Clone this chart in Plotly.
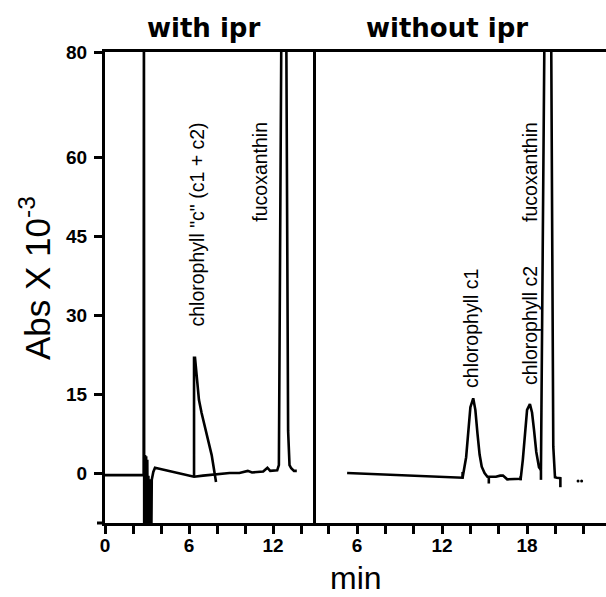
import plotly.graph_objects as go

# ---------------- data ----------------
# Left panel: "with ipr" chromatogram (time in min, Abs x 10^-3)
left_time = [0.0, 2.76, 2.78, 2.80, 2.86, 2.90, 2.94, 2.98, 3.02, 3.06, 3.10, 3.14, 3.18,
             3.22, 3.26, 3.30, 3.34, 3.45, 3.57, 4.5, 5.5, 6.07, 6.36, 7.0, 8.0, 8.9,
             9.6, 10.0, 10.2, 10.5, 11.0, 11.3, 11.6, 11.8, 12.3, 12.42, 12.62, 12.93,
             13.08, 13.18, 13.3, 13.5, 13.7]
left_abs = [-0.4, -0.4, 95, -15, 3.4, -15, 3.2, -15, 2.5, -15, -0.5, -15, -1.2,
            -15, -1.4, -15, -1.3, 0.2, 1.0, 0.4, -0.2, -0.6, -0.7, -0.5, -0.2, 0.0,
            0.0, 0.2, 0.4, 0.1, 0.2, 0.3, 1.0, 0.4, 0.5, 1.5, 95, 95,
            8, 1.5, 0.9, 0.4, 0.4]

# Left panel chlorophyll "c" peak outline
chlc_time = [6.36, 6.36, 6.43, 6.71, 6.90, 7.62, 7.93]
chlc_abs = [-0.7, 21.9, 21.9, 13.9, 11.4, 3.4, -1.7]

# Right panel: "without ipr" chromatogram
right_time = [5.3, 8.0, 11.0, 13.45, 13.7, 13.85, 14.0, 14.2, 14.35, 14.5, 14.65, 14.8,
              15.0, 15.2, 15.8, 16.1, 16.3, 16.6, 17.55, 17.7, 17.85, 18.0, 18.2,
              18.35, 18.49, 18.65, 18.84, 18.98, 19.26, 19.68, 19.85, 19.97, 20.1, 20.4]
right_abs = [0.0, -0.3, -0.6, -0.9, 3.0, 8.5, 12.5, 14.2, 12.0, 7.5, 3.5, 1.2,
             0.0, -0.7, -0.7, -0.5, -0.5, -1.2, -1.1, 2.5, 8.2, 12.0, 13.1,
             11.5, 8.2, 4.0, 1.1, 0.6, 95, 95, 5, -0.8, -0.9, -1.0]

# Integration markers (small vertical ticks) in the right panel
mark_time = [13.45, 15.3, 17.55, 18.98, 20.35]
mark_lo = [-1.0, -2.0, -1.4, -1.3, -2.7]
mark_hi = [0.2, -0.7, -0.6, 0.6, -0.8]

# Dots at the end of the right trace
dot_time = [21.6, 21.85]
dot_abs = [-1.5, -1.5]

# Axis ticks
y_ticks = [0, 15, 30, 45, 60, 80]
left_xticks = [0, 6, 12]
right_xticks = [6, 12, 18]
minor_step = 2

# Peak labels: (text, axis, time, abs)
peak_labels = [
    ('chlorophyll "c" (c1 + c2)', "x", 6.6, 47.3),
    ("fucoxanthin", "x", 11.05, 57.2),
    ("chlorophyll c1", "x2", 14.05, 27.4),
    ("chlorophyll c2", "x2", 18.2, 28.1),
    ("fucoxanthin", "x2", 18.2, 57.2),
]

# ---------------- figure ----------------
LW = 2.6
fig = go.Figure()
fig.add_trace(go.Scatter(x=left_time, y=left_abs, mode="lines", xaxis="x", yaxis="y",
                         line=dict(color="black", width=LW), showlegend=False))
fig.add_trace(go.Scatter(x=chlc_time, y=chlc_abs, mode="lines", xaxis="x", yaxis="y",
                         line=dict(color="black", width=LW), showlegend=False))
fig.add_trace(go.Scatter(x=right_time, y=right_abs, mode="lines", xaxis="x2", yaxis="y",
                         line=dict(color="black", width=LW), showlegend=False))
mx, my = [], []
for t, lo, hi in zip(mark_time, mark_lo, mark_hi):
    mx += [t, t, None]
    my += [lo, hi, None]
fig.add_trace(go.Scatter(x=mx, y=my, mode="lines", xaxis="x2", yaxis="y",
                         line=dict(color="black", width=LW), showlegend=False))
fig.add_trace(go.Scatter(x=dot_time, y=dot_abs, mode="markers", xaxis="x2", yaxis="y",
                         marker=dict(color="black", size=3), showlegend=False))

tickfont = dict(family="Liberation Sans, Arial", size=19, color="black", weight="bold")
split = 208 / 501

common_x = dict(showgrid=False, zeroline=False, showline=True, linewidth=3, linecolor="black",
                mirror=True, ticks="outside", ticklen=8, tickwidth=2.5, tickcolor="black",
                tickfont=tickfont, anchor="y", ticklabelstandoff=-5,
                minor=dict(ticks="outside", ticklen=8, tickwidth=2.5, tickcolor="black",
                           dtick=minor_step, tick0=0, showgrid=False))

fig.update_layout(
    width=606, height=597,
    margin=dict(l=105, r=0, t=52, b=74, pad=0),
    paper_bgcolor="white", plot_bgcolor="white",
    xaxis=dict(domain=[0, split], range=[0, 14.857], tickvals=left_xticks,
               ticktext=[str(v) for v in left_xticks], **common_x),
    xaxis2=dict(domain=[split, 1], range=[2.893, 23.57], tickvals=right_xticks,
                ticktext=[str(v) for v in right_xticks], **common_x),
    yaxis=dict(range=[-9.5, 80], tickvals=y_ticks, ticktext=[str(v) for v in y_ticks],
               showgrid=False, zeroline=False, showline=True, linewidth=3, linecolor="black",
               mirror=True, ticks="outside", ticklen=8, tickwidth=2.5, tickcolor="black",
               tickfont=tickfont, anchor="x", ticklabelstandoff=3),
)

ann = []
for text, ax, t, v in peak_labels:
    ann.append(dict(text=text, xref=ax, yref="y", x=t, y=v, showarrow=False, textangle=-90,
                    font=dict(family="Liberation Sans, Arial", size=19.5, color="black"),
                    xanchor="center", yanchor="middle"))

title_font = dict(family="DejaVu Sans", size=26, color="black", weight="bold")
ann.append(dict(text="with ipr", xref="paper", yref="paper", x=(203 - 105) / 501,
                y=(523 - 28) / 471, showarrow=False, font=title_font,
                xanchor="center", yanchor="middle"))
ann.append(dict(text="without ipr", xref="paper", yref="paper", x=(447 - 105) / 501,
                y=(523 - 28) / 471, showarrow=False, font=title_font,
                xanchor="center", yanchor="middle"))
big = dict(family="Liberation Sans, Arial", size=35, color="black")
ann.append(dict(text="Abs X 10<sup>-3</sup>", xref="paper", yref="paper", x=(35 - 105) / 501,
                y=(523 - 278) / 471, showarrow=False, textangle=-90, font=big,
                xanchor="center", yanchor="middle"))
ann.append(dict(text="min", xref="paper", yref="paper", x=(356 - 105) / 501,
                y=(523 - 597) / 471, showarrow=False, borderpad=0,
                font=dict(family="Liberation Sans, Arial", size=32, color="black"),
                xanchor="center", yanchor="bottom"))
fig.update_layout(annotations=ann)

# bottom axis line extends slightly left of the y axis
fig.add_shape(type="line", xref="paper", yref="paper", x0=-8 / 501, x1=0, y0=0, y1=0,
              line=dict(color="black", width=3))

fig.write_html("out.html", config={"displayModeBar": False},
               post_script="document.body.style.margin='0';")
